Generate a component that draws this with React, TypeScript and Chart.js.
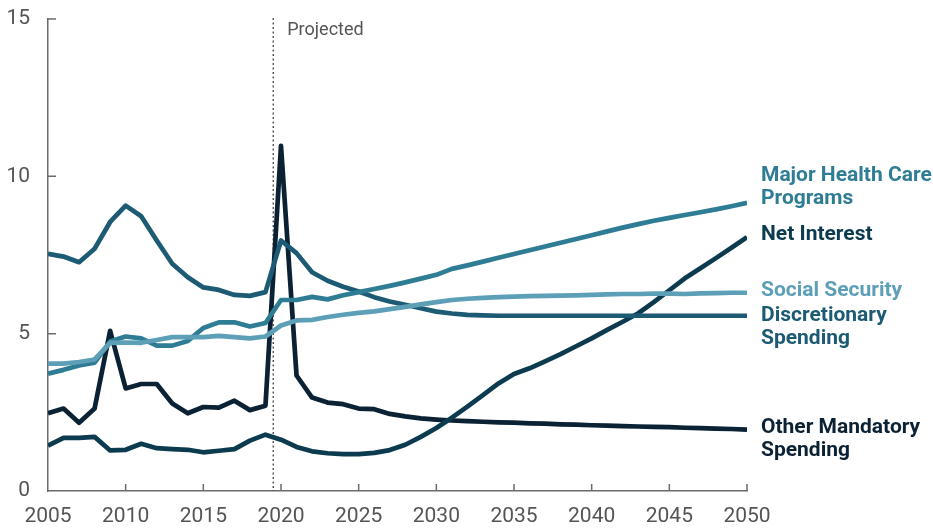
import React, { useEffect, useRef } from "react";
import { Chart, registerables } from "chart.js";

Chart.register(...registerables);

const years = [
  2005, 2006, 2007, 2008, 2009, 2010, 2011, 2012, 2013, 2014,
  2015, 2016, 2017, 2018, 2019, 2020, 2021, 2022, 2023, 2024,
  2025, 2026, 2027, 2028, 2029, 2030, 2031, 2032, 2033, 2034,
  2035, 2036, 2037, 2038, 2039, 2040, 2041, 2042, 2043, 2044,
  2045, 2046, 2047, 2048, 2049, 2050,
];

const healthCare = [
  3.73, 3.85, 3.99, 4.08, 4.75, 4.91, 4.85, 4.62, 4.62, 4.77,
  5.18, 5.36, 5.36, 5.23, 5.34, 6.07, 6.07, 6.17, 6.09, 6.22,
  6.32, 6.42, 6.52, 6.63, 6.75, 6.87, 7.06, 7.17, 7.29, 7.41,
  7.53, 7.65, 7.77, 7.89, 8.01, 8.13, 8.25, 8.37, 8.48, 8.59,
  8.68, 8.77, 8.86, 8.95, 9.05, 9.16,
];

const netInterest = [
  1.44, 1.69, 1.69, 1.72, 1.29, 1.31, 1.50, 1.36, 1.33, 1.31,
  1.23, 1.28, 1.33, 1.60, 1.79, 1.63, 1.40, 1.26, 1.20, 1.17,
  1.17, 1.21, 1.30, 1.47, 1.72, 2.00, 2.33, 2.68, 3.05, 3.42,
  3.72, 3.90, 4.12, 4.35, 4.60, 4.85, 5.12, 5.38, 5.65, 6.00,
  6.38, 6.76, 7.08, 7.40, 7.73, 8.07,
];

const socialSecurity = [
  4.05, 4.05, 4.10, 4.18, 4.71, 4.72, 4.71, 4.80, 4.89, 4.89,
  4.89, 4.93, 4.89, 4.85, 4.91, 5.26, 5.42, 5.44, 5.53, 5.60,
  5.66, 5.71, 5.78, 5.85, 5.93, 6.00, 6.07, 6.11, 6.14, 6.16,
  6.18, 6.19, 6.20, 6.21, 6.22, 6.23, 6.25, 6.26, 6.26, 6.27,
  6.27, 6.26, 6.28, 6.29, 6.30, 6.30,
];

const discretionary = [
  7.54, 7.45, 7.27, 7.70, 8.55, 9.07, 8.73, 7.96, 7.22, 6.79,
  6.47, 6.39, 6.23, 6.20, 6.32, 7.96, 7.56, 6.95, 6.68, 6.49,
  6.34, 6.16, 6.02, 5.92, 5.81, 5.70, 5.64, 5.60, 5.58, 5.57,
  5.57, 5.57, 5.57, 5.57, 5.57, 5.57, 5.57, 5.57, 5.57, 5.57,
  5.57, 5.57, 5.57, 5.57, 5.57, 5.57,
];

const otherMandatory = [
  2.47, 2.62, 2.17, 2.62, 5.09, 3.26, 3.40, 3.40, 2.78, 2.47,
  2.67, 2.65, 2.87, 2.57, 2.71, 10.97, 3.67, 2.97, 2.81, 2.76,
  2.62, 2.60, 2.45, 2.37, 2.31, 2.27, 2.24, 2.22, 2.20, 2.18,
  2.17, 2.15, 2.14, 2.12, 2.11, 2.09, 2.08, 2.06, 2.05, 2.04,
  2.03, 2.01, 2.00, 1.98, 1.97, 1.95,
];

const yTicks = [0, 5, 10, 15];
const xTicks = [2005, 2010, 2015, 2020, 2025, 2030, 2035, 2040, 2045, 2050];
const projectedFrom = 2019.5;
const projectedLabel = "Projected";

type Series = {
  name: string[];
  values: number[];
  color: string;
  labelOffsets: number[];
};

const series: Series[] = [
  { name: ["Social Security"], values: socialSecurity, color: "#5e9fb8", labelOffsets: [3] },
  { name: ["Major Health Care", "Programs"], values: healthCare, color: "#2f7c95", labelOffsets: [-22, 1] },
  { name: ["Discretionary", "Spending"], values: discretionary, color: "#1c5b73", labelOffsets: [5, 28] },
  { name: ["Net Interest"], values: netInterest, color: "#0c3b4f", labelOffsets: [3] },
  { name: ["Other Mandatory", "Spending"], values: otherMandatory, color: "#0b2234", labelOffsets: [3, 26] },
];

const AXIS_COLOR = "#6b6b6b";
const TEXT_COLOR = "#555555";

const overlay = {
  id: "overlay",
  beforeDatasetsDraw(chart: any) {
    const { ctx, chartArea, scales } = chart;
    const x = scales.x.getPixelForValue(projectedFrom);
    ctx.save();
    ctx.strokeStyle = "#333333";
    ctx.lineWidth = 1.2;
    ctx.setLineDash([2, 2.5]);
    ctx.beginPath();
    ctx.moveTo(x, chartArea.top - 1);
    ctx.lineTo(x, chartArea.bottom);
    ctx.stroke();
    ctx.setLineDash([]);
    ctx.fillStyle = TEXT_COLOR;
    ctx.font = "18px Roboto";
    ctx.textAlign = "left";
    ctx.textBaseline = "alphabetic";
    ctx.fillText(projectedLabel, x + 14, chartArea.top + 16);
    ctx.restore();
  },
  afterDraw(chart: any) {
    const { ctx, chartArea, scales } = chart;
    ctx.save();
    ctx.strokeStyle = AXIS_COLOR;
    ctx.lineWidth = 1.5;
    ctx.beginPath();
    yTicks.forEach((v) => {
      if (v === 0) return;
      const y = scales.y.getPixelForValue(v);
      ctx.moveTo(chartArea.left, y);
      ctx.lineTo(chartArea.left + 8, y);
    });
    xTicks.forEach((v) => {
      if (v === xTicks[0]) return;
      const x = scales.x.getPixelForValue(v);
      ctx.moveTo(x, chartArea.bottom);
      ctx.lineTo(x, chartArea.bottom - 7);
    });
    ctx.stroke();

    ctx.font = "bold 21px Roboto";
    ctx.textAlign = "left";
    ctx.textBaseline = "alphabetic";
    series.forEach((s) => {
      const yEnd = scales.y.getPixelForValue(s.values[s.values.length - 1]);
      ctx.fillStyle = s.color;
      s.name.forEach((line, i) => {
        ctx.fillText(line, chartArea.right + 14, yEnd + s.labelOffsets[i]);
      });
    });
    ctx.restore();
  },
};

export default function App() {
  const ref = useRef<HTMLCanvasElement>(null);
  useEffect(() => {
    document.body.style.margin = "0";
    const canvas = ref.current;
    if (!canvas) return;
    const chart = new Chart(canvas, {
      type: "line",
      data: {
        datasets: series.map((s) => ({
          label: s.name.join(" "),
          data: years.map((x, i) => ({ x, y: s.values[i] })),
          borderColor: s.color,
          backgroundColor: s.color,
          borderWidth: 4.7,
          pointRadius: 0,
          tension: 0,
          fill: false,
          borderJoinStyle: "round" as const,
          borderCapStyle: "butt" as const,
        })),
      },
      options: {
        responsive: false,
        animation: false,
        devicePixelRatio: 1,
        layout: { padding: { top: 19, right: 186, left: 0, bottom: 0 } },
        plugins: {
          legend: { display: false },
          tooltip: { enabled: false },
        },
        scales: {
          x: {
            type: "linear",
            min: 2005,
            max: 2050,
            afterBuildTicks: (scale: any) => {
              scale.ticks = xTicks.map((v) => ({ value: v }));
            },
            ticks: {
              padding: 13,
              color: TEXT_COLOR,
              font: { family: "Roboto", size: 21 },
              maxRotation: 0,
              autoSkip: false,
              callback: (v: any) => String(v),
            },
            grid: { display: false, drawTicks: false },
            border: { display: true, color: AXIS_COLOR, width: 1.5 },
            afterFit: (scale: any) => {
              scale.height = 40;
              scale.paddingLeft = 0;
              scale.paddingRight = 0;
            },
          },
          y: {
            type: "linear",
            min: 0,
            max: 15,
            afterBuildTicks: (scale: any) => {
              scale.ticks = yTicks.map((v) => ({ value: v }));
            },
            ticks: {
              padding: 18,
              color: TEXT_COLOR,
              font: { family: "Roboto", size: 21 },
              callback: (v: any) => String(v),
            },
            grid: { display: false, drawTicks: false },
            border: { display: true, color: AXIS_COLOR, width: 1.5 },
            afterFit: (scale: any) => {
              scale.width = 48;
              scale.paddingTop = 0;
              scale.paddingBottom = 0;
            },
          },
        },
      },
      plugins: [overlay],
    });
    return () => chart.destroy();
  }, []);

  return (
    <div style={{ width: 933, height: 531, background: "#ffffff" }}>
      <canvas ref={ref} width={933} height={531} style={{ display: "block" }} />
    </div>
  );
}
